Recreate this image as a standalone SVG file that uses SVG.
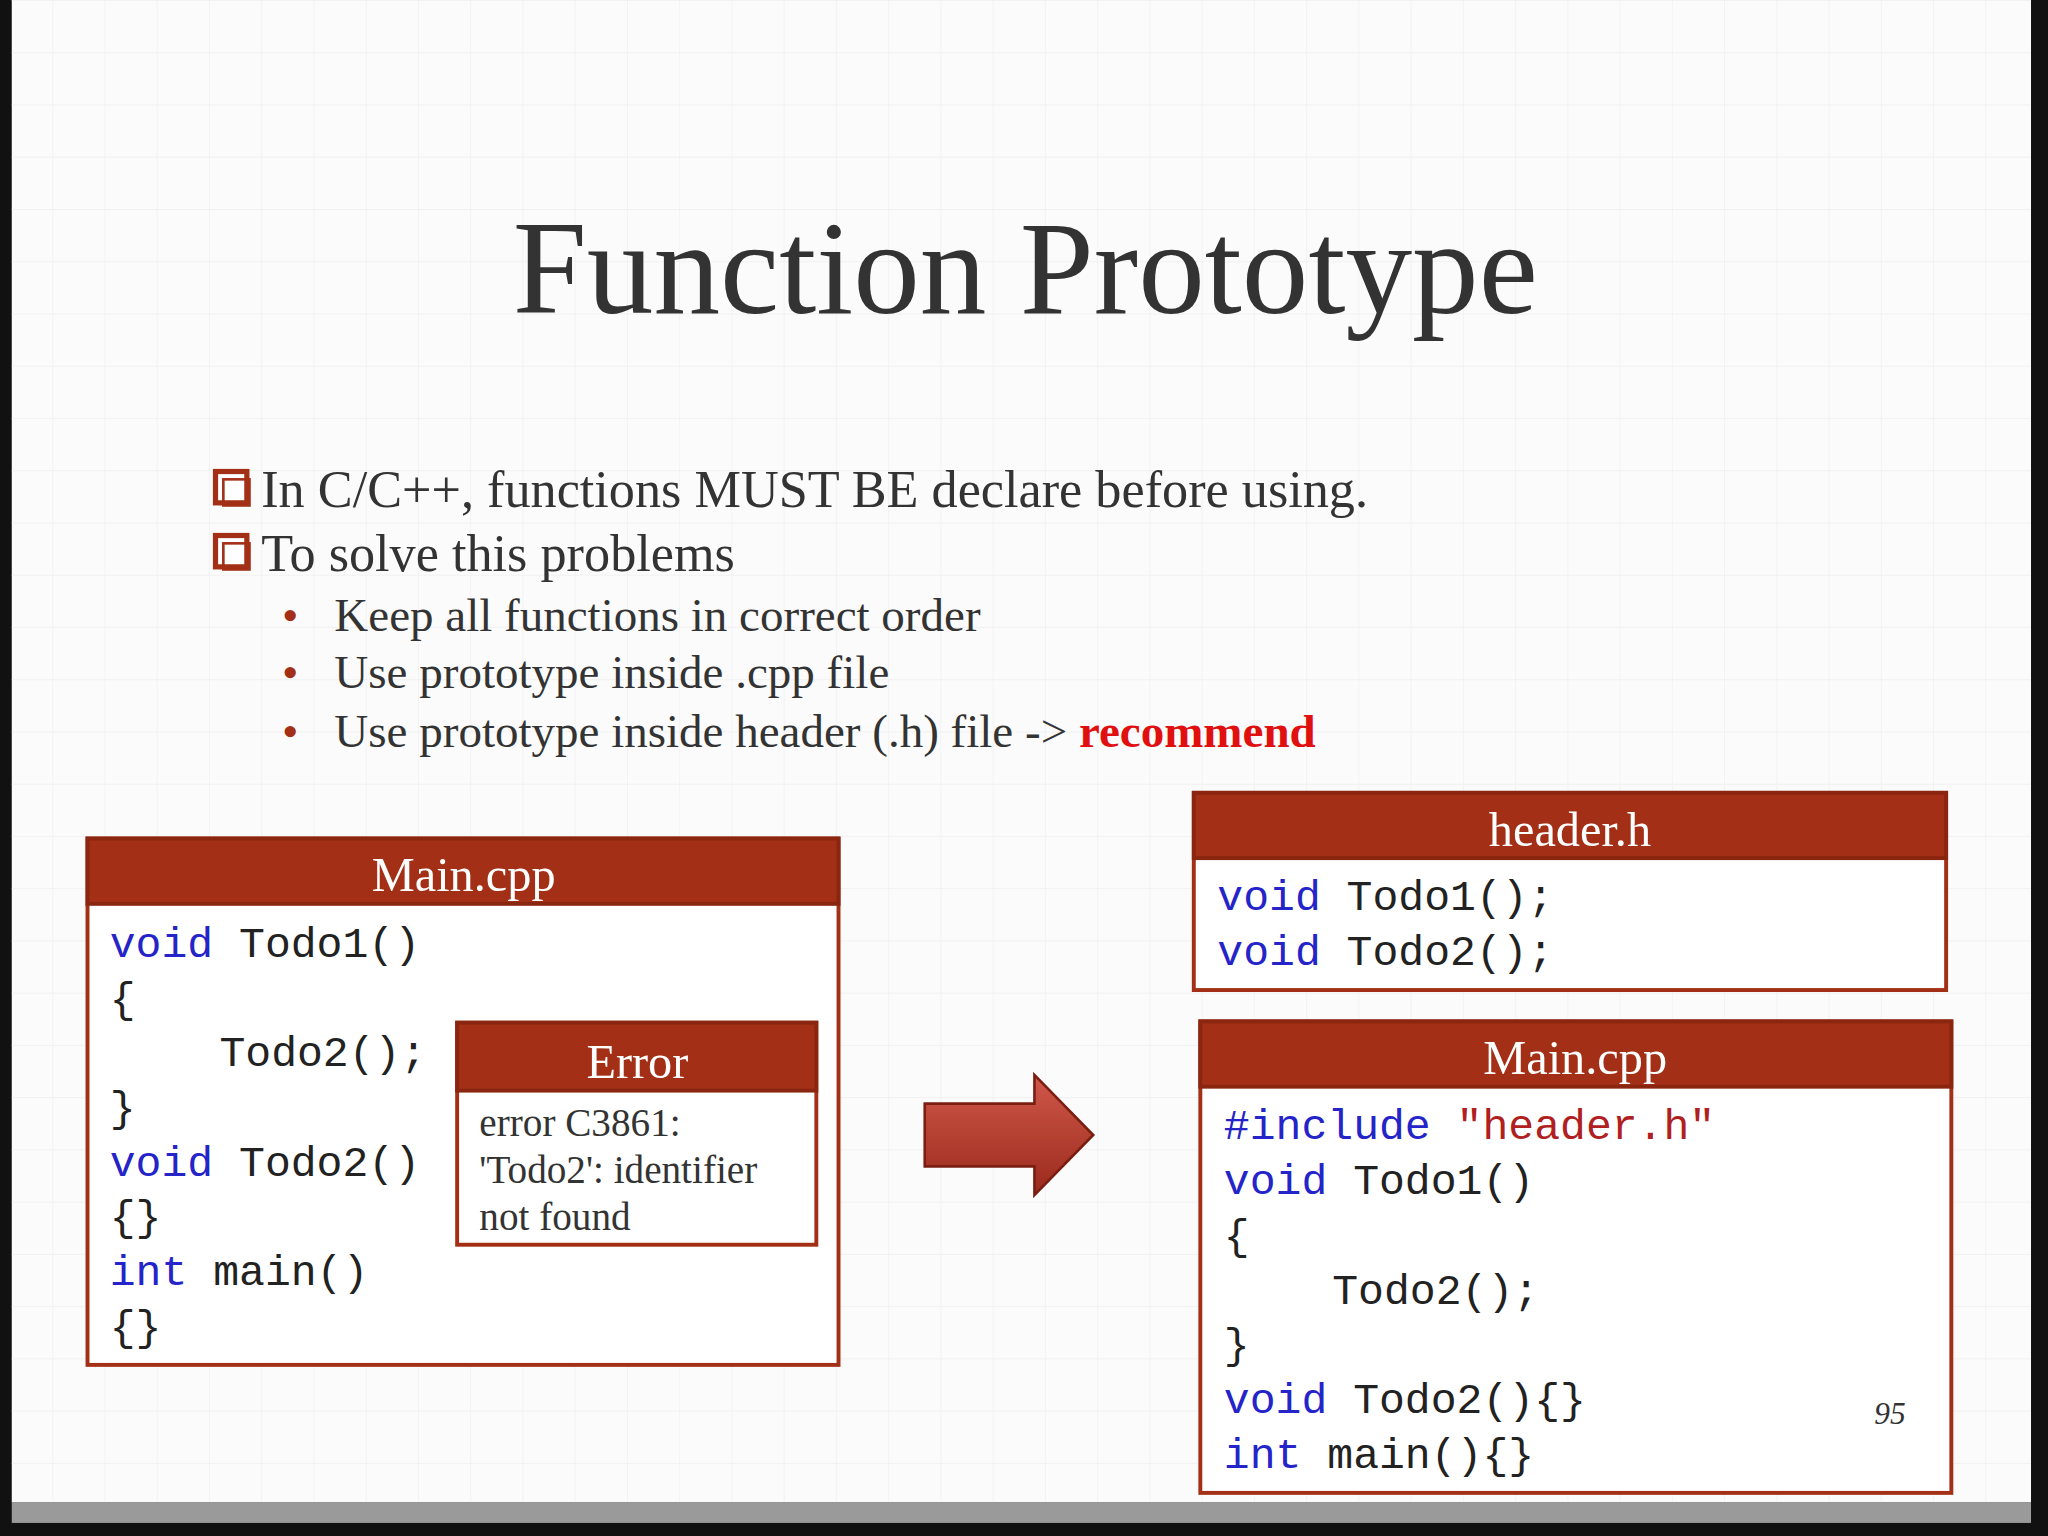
<svg xmlns="http://www.w3.org/2000/svg" width="2048" height="1536" viewBox="0 0 2048 1536">
<defs>
<style>
.hd{fill:#A33016;stroke:#8a2510;stroke-width:3}
.bx{fill:#fff;stroke:#A33016;stroke-width:3}
.ht{font-family:"Liberation Serif",serif;font-size:37px;fill:#fff;text-anchor:middle}
.cd{font-family:"Liberation Mono",monospace;font-size:33px;fill:#222}
.kw{fill:#2424c8}
.st{fill:#b02020}
.tx{font-family:"Liberation Serif",serif;fill:#333}
.cb{fill:#fff;stroke:#A33016;stroke-width:4}
</style>
<linearGradient id="ag" x1="0" y1="0" x2="0" y2="1"><stop offset="0" stop-color="#d0584a"/><stop offset="1" stop-color="#9a2a1c"/></linearGradient>
<pattern id="grid" width="40" height="40" patternUnits="userSpaceOnUse"><path d="M40 0H0V40" fill="none" stroke="#eeeeee" stroke-width="1"/></pattern>
</defs>
<rect width="2048" height="1536" fill="#111"/>
<g transform="scale(1.30612)">
<rect x="9" y="0" width="1546" height="1150" fill="#fbfbfb"/>
<rect x="9" y="0" width="1546" height="1150" fill="url(#grid)"/>
<rect x="9" y="1150" width="1546" height="16" fill="#9a9a9a"/>
<text x="785" y="240" class="tx" font-size="102" text-anchor="middle" fill="#2a2a2a">Function Prototype</text>
<g id="bullets">
<rect x="165" y="361" width="24" height="24" class="cb"/><rect x="171" y="367" width="20" height="20" fill="none" stroke="#A33016" stroke-width="2"/>
<text x="200" y="388" class="tx" font-size="40">In C/C++, functions MUST BE declare before using.</text>
<rect x="165" y="410" width="24" height="24" class="cb"/><rect x="171" y="416" width="20" height="20" fill="none" stroke="#A33016" stroke-width="2"/>
<text x="200" y="437" class="tx" font-size="40">To solve this problems</text>
<g class="tx" font-size="36">
<text x="216" y="483" fill="#A33016">•</text><text x="256" y="483">Keep all functions in correct order</text>
<text x="216" y="527" fill="#A33016">•</text><text x="256" y="527">Use prototype inside .cpp file</text>
<text x="216" y="572" fill="#A33016">•</text><text x="256" y="572">Use prototype inside header (.h) file -&gt; <tspan fill="#e01010" font-weight="bold">recommend</tspan></text>
</g>
</g>
<g id="leftMain">
<rect x="67" y="642" width="575" height="403" class="bx"/>
<rect x="67" y="642" width="575" height="50" class="hd"/>
<text x="355" y="682" class="ht">Main.cpp</text>
<g class="cd">
<text x="84" y="733"><tspan class="kw">void</tspan> Todo1()</text>
<text x="84" y="775">{</text>
<text x="168" y="816">Todo2();</text>
<text x="84" y="858">}</text>
<text x="84" y="900"><tspan class="kw">void</tspan> Todo2()</text>
<text x="84" y="942">{}</text>
<text x="84" y="984"><tspan class="kw">int</tspan> main()</text>
<text x="84" y="1026">{}</text>
</g>
</g>
<g id="error">
<rect x="350" y="783" width="275" height="170" class="bx"/>
<rect x="350" y="783" width="275" height="52" class="hd"/>
<text x="488" y="825" class="ht">Error</text>
<g class="tx" font-size="30" fill="#111">
<text x="367" y="870">error C3861:</text>
<text x="367" y="906">'Todo2': identifier</text>
<text x="367" y="942">not found</text>
</g>
</g>
<g id="connectors">
<path d="M708 845H792V823L837 869L792 915V893H708Z" fill="url(#ag)" stroke="#7a1e12" stroke-width="2"/>
</g>
<g id="header">
<rect x="914" y="607" width="576" height="151" class="bx"/>
<rect x="914" y="607" width="576" height="50" class="hd"/>
<text x="1202" y="648" class="ht">header.h</text>
<g class="cd">
<text x="932" y="697"><tspan class="kw">void</tspan> Todo1();</text>
<text x="932" y="739"><tspan class="kw">void</tspan> Todo2();</text>
</g>
</g>
<g id="rightMain">
<rect x="919" y="782" width="575" height="361" class="bx"/>
<rect x="919" y="782" width="575" height="50" class="hd"/>
<text x="1206" y="822" class="ht">Main.cpp</text>
<g class="cd">
<text x="937" y="872"><tspan class="kw">#include</tspan> <tspan class="st">"header.h"</tspan></text>
<text x="937" y="914"><tspan class="kw">void</tspan> Todo1()</text>
<text x="937" y="956">{</text>
<text x="1020" y="998">Todo2();</text>
<text x="937" y="1040">}</text>
<text x="937" y="1082"><tspan class="kw">void</tspan> Todo2(){}</text>
<text x="937" y="1124"><tspan class="kw">int</tspan> main(){}</text>
</g>
</g>
<text x="1447" y="1090" class="tx" font-size="24" font-style="italic" fill="#888" text-anchor="middle">95</text>
</g>
</svg>
